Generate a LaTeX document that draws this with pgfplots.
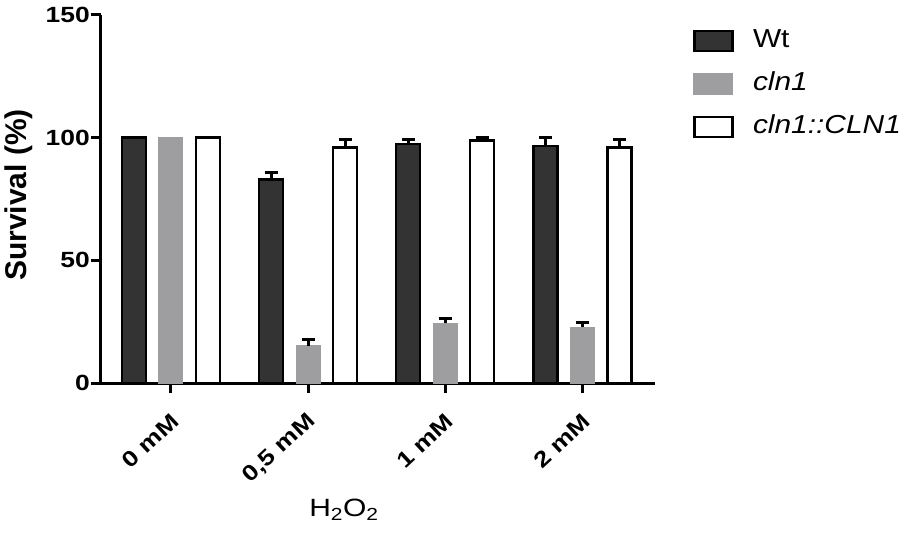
\documentclass[border=0pt]{standalone}
\usepackage{fontspec}
\setmainfont{Liberation Sans}
\newfontfamily\sfw[FakeStretch=1.2]{Liberation Sans}
\newfontfamily\sfl[FakeStretch=1.15]{Liberation Sans}
\usepackage{pgfplots}
\pgfplotsset{compat=1.18}
\definecolor{wtc}{RGB}{51,51,51}
\definecolor{clnc}{RGB}{158,158,160}
\begin{document}
\begin{tikzpicture}
\begin{axis}[
  scale only axis,
  width=554pt, height=368pt,
  xmin=-0.51, xmax=3.53,
  ymin=0, ymax=150,
  ytick={0,50,100,150},
  xtick={0,1,2,3},
  xticklabels={0 mM,{0,5 mM},1 mM,2 mM},
  axis lines=left,
  axis line style={-, line width=3pt},
  every tick/.style={black, line width=3pt},
  major tick length=10pt,
  tick align=outside,
  minor tick num=0,
  /pgf/number format/assume math mode=true,
  yticklabel style={font=\sfw\bfseries\fontsize{22}{22}\selectfont, inner sep=1pt},
  xticklabel style={font=\sfw\bfseries\fontsize{22}{22}\selectfont, xshift=5pt, yshift=-24pt, rotate=43, anchor=east, inner sep=1pt},
  ylabel={Survival (\%)},
  ylabel style={font=\bfseries\fontsize{30}{30}\selectfont, at={(axis description cs:-0.148,0.511)}, anchor=center},
  xlabel={H\textsubscript{2}O\textsubscript{2}},
  xlabel style={font=\sfw\fontsize{25}{25}\selectfont, at={(axis description cs:0.4386,-0.345)}, anchor=center},
  ybar,
  bar width=24pt,
  error bars/y dir=plus,
  error bars/y explicit,
  error bars/error bar style={line width=3pt, black},
  error bars/error mark options={rotate=90, line width=3pt, black, mark size=6.5pt},
  legend cell align=left,
  legend style={draw=none, fill=none, inner sep=0pt, outer sep=0pt,
    at={(axis description cs:1.0686,0.970)}, anchor=north west,
    row sep=13pt,
    nodes={font=\sfl\fontsize{26}{26}\selectfont, text height=19pt, text depth=6pt, inner sep=2.5pt},
    /tikz/every odd column/.append style={column sep=17pt}},
]
% 0 mM bars (no error bars)
\addplot[forget plot, bar shift=-37pt, fill=wtc, draw=black, line width=2.5pt] coordinates {(0,100)};
\addplot[forget plot, bar shift=0pt, fill=clnc, draw=clnc, line width=1pt] coordinates {(0,100)};
\addplot[forget plot, bar shift=37pt, fill=white, draw=black, line width=2.5pt] coordinates {(0,100)};
% H2O2 treated
\addplot[bar shift=-37pt, fill=wtc, draw=black, line width=2.5pt,
  legend image code/.code={\draw[fill=wtc, draw=black, line width=2.5pt] (1pt,-10pt) rectangle (39pt,10pt);}]
  coordinates {(1,83) +- (0,3) (2,97.4) +- (0,2) (3,96.7) +- (0,3.5)};
\addlegendentry{Wt}
\addplot[bar shift=0pt, fill=clnc, draw=clnc, line width=1pt,
  legend image code/.code={\draw[fill=clnc, draw=clnc, line width=2pt] (1pt,-10pt) rectangle (39pt,10pt);}]
  coordinates {(1,15.2) +- (0,2.7) (2,24.3) +- (0,2) (3,22.7) +- (0,2)};
\addlegendentry{\textit{cln1}}
\addplot[bar shift=37pt, fill=white, draw=black, line width=2.5pt,
  legend image code/.code={\draw[fill=white, draw=black, line width=2.5pt] (1pt,-10pt) rectangle (39pt,10pt);}]
  coordinates {(1,95.9) +- (0,3.5) (2,98.8) +- (0,1.2) (3,95.9) +- (0,3.5)};
\addlegendentry{\textit{cln1::CLN1}}
\end{axis}
\pgfresetboundingbox
\path ([shift={(-101pt,-152pt)}]current axis.south west) rectangle ++(910pt,535pt);
\end{tikzpicture}
\end{document}
